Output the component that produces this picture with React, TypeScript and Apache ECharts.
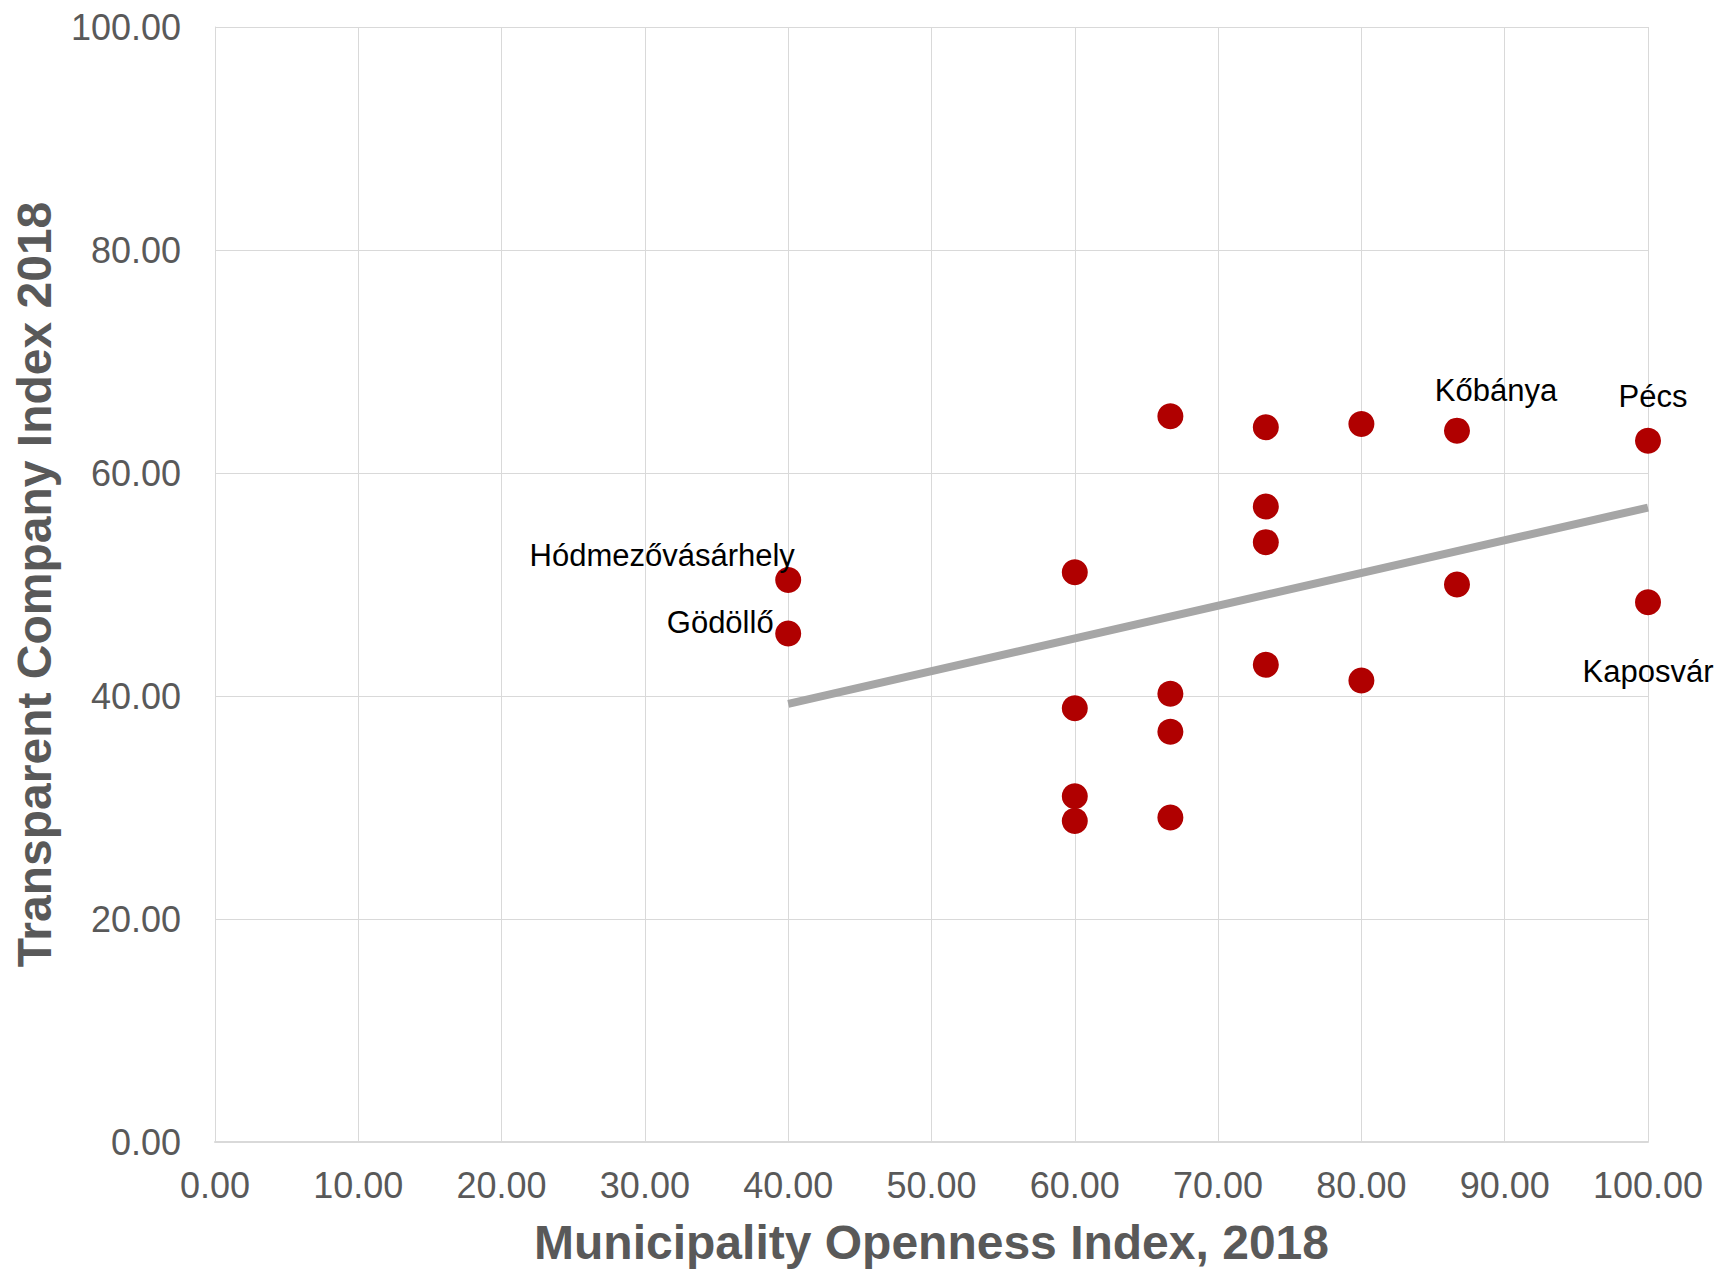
import React, { useEffect, useRef } from "react";
import * as echarts from "echarts";

const cityNames = [
  "Hódmezővásárhely", "Gödöllő", "", "", "", "", "", "", "", "",
  "", "", "", "", "", "", "Kőbánya", "", "Pécs", "Kaposvár",
];
const opennessValues = [
  40.0, 40.0, 60.0, 60.0, 60.0, 60.0, 66.67, 66.67, 66.67, 66.67,
  73.33, 73.33, 73.33, 73.33, 80.0, 80.0, 86.67, 86.67, 100.0, 100.0,
];
const transparencyValues = [
  50.4, 45.6, 51.1, 38.9, 31.0, 28.8, 65.1, 40.2, 36.8, 29.1,
  64.1, 57.0, 53.8, 42.8, 64.4, 41.4, 63.8, 50.0, 62.9, 48.4,
];
const trendX = [40.0, 100.0];
const trendY = [39.3, 56.9];
const axisTicks = [0, 10, 20, 30, 40, 50, 60, 70, 80, 90, 100];

const labelOffsets: Record<string, [number, number]> = {
  "Hódmezővásárhely": [-126, -25],
  "Gödöllő": [-68, -11],
  "Kőbánya": [39, -40],
  "Pécs": [5, -44],
  "Kaposvár": [0, 69],
};

export default function App() {
  const ref = useRef<HTMLDivElement>(null);
  useEffect(() => {
    document.body.style.margin = "0";
    const chart = echarts.init(ref.current!, null, { renderer: "svg" });
    const font = "'Liberation Sans', Arial, sans-serif";
    const gridColor = "#d9d9d9";
    const textColor = "#595959";

    const scatterData = opennessValues.map((x, i) => {
      const name = cityNames[i];
      const item: any = { value: [x, transparencyValues[i]], name };
      if (name) {
        item.label = {
          show: true,
          formatter: name,
          position: "inside",
          offset: labelOffsets[name],
          color: "#000000",
          fontSize: 31,
          fontFamily: font,
        };
      }
      return item;
    });

    chart.setOption({
      animation: false,
      backgroundColor: "#ffffff",
      grid: { left: 215, right: 71, top: 27, bottom: 128, containLabel: false },
      xAxis: {
        type: "value",
        min: axisTicks[0],
        max: axisTicks[axisTicks.length - 1],
        interval: 10,
        name: "Municipality Openness Index, 2018",
        nameLocation: "middle",
        nameGap: 76,
        nameTextStyle: { fontSize: 48, fontWeight: "bold", color: textColor, fontFamily: font },
        axisLine: { show: true, lineStyle: { color: gridColor, width: 2 } },
        axisTick: { show: false },
        axisLabel: {
          fontSize: 36,
          color: textColor,
          fontFamily: font,
          margin: 25,
          formatter: (v: number) => v.toFixed(2),
        },
        splitLine: { show: true, lineStyle: { color: gridColor, width: 1 } },
      },
      yAxis: {
        type: "value",
        min: 0,
        max: 100,
        interval: 20,
        name: "Transparent Company Index 2018",
        nameLocation: "middle",
        nameGap: 157,
        nameTextStyle: { fontSize: 48, fontWeight: "bold", color: textColor, fontFamily: font },
        axisLine: { show: true, lineStyle: { color: gridColor, width: 1 } },
        axisTick: { show: false },
        axisLabel: {
          fontSize: 36,
          color: textColor,
          fontFamily: font,
          margin: 34,
          formatter: (v: number) => v.toFixed(2),
        },
        splitLine: { show: true, lineStyle: { color: gridColor, width: 1 } },
      },
      series: [
        {
          type: "line",
          data: trendX.map((x, i) => [x, trendY[i]]),
          symbol: "none",
          lineStyle: { color: "#a6a6a6", width: 8 },
          z: 1,
          silent: true,
        },
        {
          type: "scatter",
          data: scatterData,
          symbol: "circle",
          symbolSize: 26,
          itemStyle: { color: "#b00000", opacity: 1 },
          z: 2,
        },
      ],
    });
    return () => chart.dispose();
  }, []);
  return <div ref={ref} style={{ width: 1719, height: 1271 }} />;
}
